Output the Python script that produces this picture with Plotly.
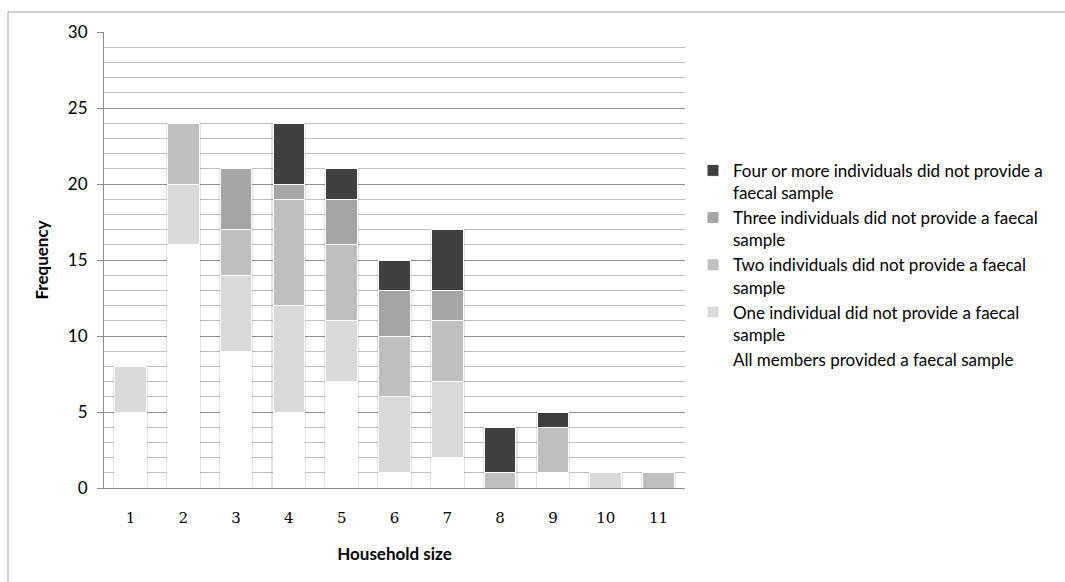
import plotly.graph_objects as go

household_size = ["1", "2", "3", "4", "5", "6", "7", "8", "9", "10", "11"]

all_members = [5, 16, 9, 5, 7, 1, 2, 0, 1, 0, 0]
one_missing = [3, 4, 5, 7, 4, 5, 5, 0, 0, 1, 0]
two_missing = [0, 4, 3, 7, 5, 4, 4, 1, 3, 0, 1]
three_missing = [0, 0, 4, 1, 3, 3, 2, 0, 0, 0, 0]
four_plus_missing = [0, 0, 0, 4, 2, 2, 4, 3, 1, 0, 0]

series = [
    ("All members provided a faecal sample", all_members, "#FFFFFF"),
    ("One individual did not provide a faecal<br>sample", one_missing, "#D9D9D9"),
    ("Two individuals did not provide a faecal<br>sample", two_missing, "#BFBFBF"),
    ("Three individuals did not provide a faecal<br>sample", three_missing, "#A5A5A5"),
    ("Four or more individuals did not provide a<br>faecal sample", four_plus_missing, "#404040"),
]

sans = "Lato, 'Open Sans', sans-serif"
serif = "'DejaVu Serif', serif"

fig = go.Figure()

# soft drop shadow behind each stacked column
totals = [sum(v) for v in zip(*[s[1] for s in series])]
fig.add_trace(go.Bar(
    x=household_size, y=totals, width=0.66,
    marker=dict(color="rgba(0,0,0,0.10)", line=dict(width=0)),
    showlegend=False, hoverinfo="skip", xaxis="x", yaxis="y",
))

for name, vals, color in series:
    fig.add_trace(go.Bar(
        x=household_size, y=vals, name=name, width=0.6,
        marker=dict(color=color, line=dict(color="#FFFFFF", width=1)),
        xaxis="x2", yaxis="y",
    ))

axis_x = dict(
    type="category", range=[-0.5, 10.5],
    showgrid=False, zeroline=False, showline=True, linecolor="#8C8C8C", linewidth=1,
    ticks="", tickfont=dict(family=serif, size=15, color="#000000"),
)

fig.update_layout(
    width=1065, height=582,
    margin=dict(l=104, r=380, t=32, b=94, autoexpand=False),
    paper_bgcolor="#FFFFFF", plot_bgcolor="#FFFFFF",
    barmode="stack",
    font=dict(family=sans, color="#000000"),
    xaxis=dict(
        **axis_x,
        showticklabels=True,
        ticklabelstandoff=16,
        title=dict(text="<b>Household size</b>", font=dict(size=17), standoff=22),
    ),
    xaxis2=dict(**axis_x, overlaying="x", showticklabels=False, matches="x"),
    yaxis=dict(
        range=[0, 30], dtick=5, tick0=0,
        showgrid=True, gridcolor="#8E8E8E", gridwidth=1,
        minor=dict(dtick=1, showgrid=True, gridcolor="#BDBDBD", gridwidth=1),
        zeroline=False, showline=True, linecolor="#8C8C8C", linewidth=1,
        ticks="outside", ticklen=6, tickcolor="#8C8C8C",
        tickfont=dict(size=17),
        ticklabelstandoff=6,
        title=dict(text="<b>Frequency</b>", font=dict(size=17), standoff=14),
    ),
    legend=dict(
        x=(693 - 104) / 581, y=0.735, xanchor="left", yanchor="top",
        traceorder="reversed", valign="top",
        font=dict(size=17, color="#000000"),
        itemwidth=30, bgcolor="rgba(0,0,0,0)",
    ),
    shapes=[dict(
        type="rect", xref="paper", yref="paper",
        x0=(8 - 104) / 581, x1=2.0, y0=-0.5, y1=(488 - 12) / 456,
        line=dict(color="#A0A0A0", width=1), fillcolor="rgba(0,0,0,0)", layer="below",
    )],
)

fig.write_html("out.html")
